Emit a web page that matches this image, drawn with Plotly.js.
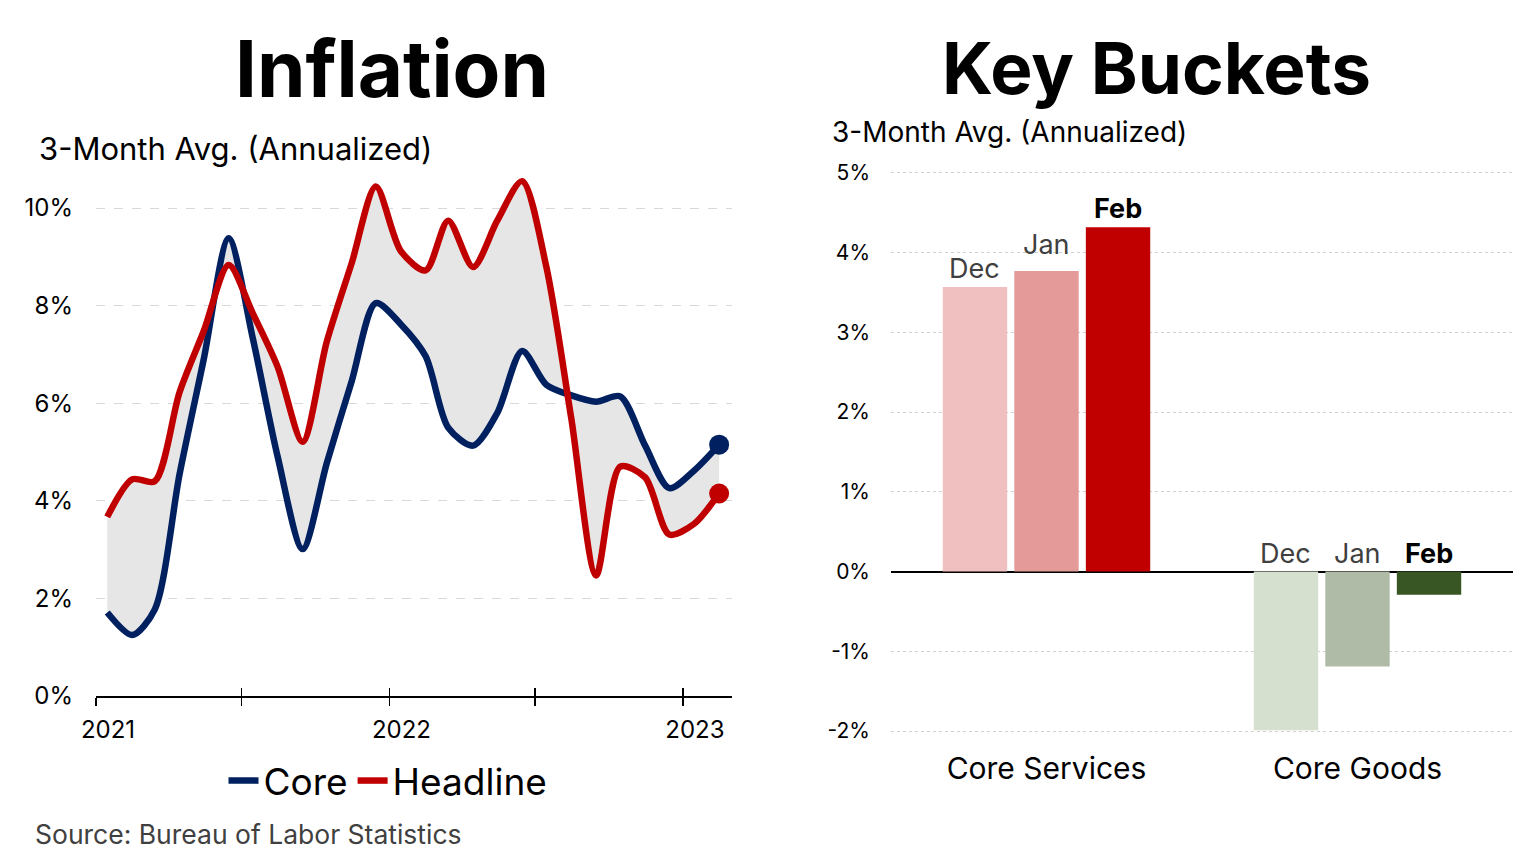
<!DOCTYPE html>
<html>
<head>
<meta charset="utf-8">
<script src="https://cdn.plot.ly/plotly-3.0.1.min.js"></script>
<style>html,body{margin:0;padding:0;background:#fff;}#chart{width:1536px;height:868px;}</style>
</head>
<body>
<div id="chart"></div>
<script>
// ---------- DATA ----------
const months = ['2021-01-15','2021-02-15','2021-03-15','2021-04-15','2021-05-15','2021-06-15',
  '2021-07-15','2021-08-15','2021-09-15','2021-10-15','2021-11-15','2021-12-15',
  '2022-01-15','2022-02-15','2022-03-15','2022-04-15','2022-05-15','2022-06-15',
  '2022-07-15','2022-08-15','2022-09-15','2022-10-15','2022-11-15','2022-12-15',
  '2023-01-15','2023-02-15'];
const core = [1.71,1.25,1.77,4.55,6.9,9.38,7.33,4.9,3.01,4.77,6.45,8.05,
  7.62,6.96,5.5,5.13,5.8,7.07,6.38,6.16,6.03,6.14,5.13,4.26,4.62,5.15];
const headline = [3.67,4.44,4.4,6.23,7.48,8.83,7.84,6.74,5.21,7.26,8.87,10.44,
  9.12,8.72,9.74,8.79,9.74,10.55,8.8,5.7,2.47,4.7,4.48,3.31,3.53,4.15];
const xTickVals = ['2021-01-01','2021-07-01','2022-01-01','2022-07-01','2023-01-01'];
const xTickText = ['2021','','2022','','2023'];
const yTicksLeft = [0,2,4,6,8,10];
const yTicksRight = [-2,-1,0,1,2,3,4,5];

const buckets = ['Core Services','Core Goods'];
const periods = ['Dec','Jan','Feb'];
const dec = [3.57,-1.99];
const jan = [3.77,-1.19];
const feb = [4.32,-0.29];
const bucketValues = [dec, jan, feb];

// ---------- STYLE ----------
const FONT = 'Inter, "Open Sans", sans-serif';
const NAVY = '#002060', RED = '#C00000';
const barColors = [['#F0C0C0','#D6E0CF'],['#E39A99','#AFBBA6'],['#C00000','#375623']];
const labelStyle = [{w:'normal',c:'#404040'},{w:'normal',c:'#404040'},{w:'bold',c:'#000'}];
const labelLift = [[0,0],[8,0],[0,0]];

const W = 1536, H = 868;
const L = {x0:96, x1:732, yTop:170, yBot:696};
const R = {x0:891, x1:1513, yTop:153, yBot:751};
const bargap = 0.31, bargroupgap = 0.1;
const pct = v => (v < 0 ? '-' : '') + Math.abs(v) + '%';

const last = months.length - 1;
const traces = [
  {x: months, y: core, type:'scatter', mode:'lines', line:{width:0, shape:'spline', smoothing:0.8, color:NAVY}, showlegend:false, hoverinfo:'skip', xaxis:'x', yaxis:'y'},
  {x: months, y: headline, type:'scatter', mode:'lines', fill:'tonexty', fillcolor:'#E6E6E6', line:{width:0, shape:'spline', smoothing:0.8, color:RED}, showlegend:false, hoverinfo:'skip', xaxis:'x', yaxis:'y'},
  {x: months, y: core, type:'scatter', mode:'lines', name:'Core', line:{width:6.5, shape:'spline', smoothing:0.8, color:NAVY}, xaxis:'x', yaxis:'y'},
  {x: months, y: headline, type:'scatter', mode:'lines', name:'Headline', line:{width:6.5, shape:'spline', smoothing:0.8, color:RED}, xaxis:'x', yaxis:'y'},
  {x: [months[last]], y: [core[last]], type:'scatter', mode:'markers', marker:{size:20, color:NAVY}, showlegend:false, xaxis:'x', yaxis:'y'},
  {x: [months[last]], y: [headline[last]], type:'scatter', mode:'markers', marker:{size:20, color:RED}, showlegend:false, xaxis:'x', yaxis:'y'}
];
bucketValues.forEach((vals, i) => {
  traces.push({x: buckets, y: vals, type:'bar', name: periods[i], marker:{color: barColors[i]}, showlegend:false, xaxis:'x2', yaxis:'y2'});
});
traces.push({x:[months[0]], y:[null], type:'scatter', mode:'lines', xaxis:'x3', yaxis:'y', showlegend:false, hoverinfo:'skip'});

// annotations
const annotations = [
  {text:'<b>Inflation</b>', x:392/W, y:1-68/H, xref:'paper', yref:'paper', xanchor:'center', yanchor:'middle', showarrow:false, font:{family:FONT, size:78, color:'#000'}},
  {text:'<b>Key Buckets</b>', x:1156/W, y:1-68/H, xref:'paper', yref:'paper', xanchor:'center', yanchor:'middle', showarrow:false, font:{family:FONT, size:71, color:'#000'}},
  {text:'3-Month Avg. (Annualized)', x:37/W, y:1-148/H, xref:'paper', yref:'paper', xanchor:'left', yanchor:'middle', showarrow:false, font:{family:FONT, size:31, color:'#000'}},
  {text:'3-Month Avg. (Annualized)', x:830/W, y:1-132/H, xref:'paper', yref:'paper', xanchor:'left', yanchor:'middle', showarrow:false, font:{family:FONT, size:28, color:'#000'}},
  {text:'Source: Bureau of Labor Statistics', x:33/W, y:1-834/H, xref:'paper', yref:'paper', xanchor:'left', yanchor:'middle', showarrow:false, font:{family:FONT, size:26.5, color:'#404040'}}
];
const catPx = (R.x1 - R.x0) / buckets.length;
const barSlot = catPx * (1 - bargap) / periods.length;
bucketValues.forEach((vals, i) => {
  vals.forEach((v, j) => {
    annotations.push({text: labelStyle[i].w === 'bold' ? '<b>'+periods[i]+'</b>' : periods[i],
      x: buckets[j], y: Math.max(v, 0), xref:'x2', yref:'y2', xanchor:'center', yanchor:'bottom',
      xshift: (i - (periods.length-1)/2) * barSlot, yshift: labelLift[i][j], showarrow:false,
      font:{family:FONT, size:27, color: labelStyle[i].c}});
  });
});

const layout = {
  width: W, height: H, margin:{l:0,r:0,t:0,b:0}, paper_bgcolor:'#fff', plot_bgcolor:'rgba(0,0,0,0)',
  font:{family:FONT, color:'#000'},
  showlegend:true,
  legend:{orientation:'h', x:388/W, y:1-781/H, xanchor:'center', yanchor:'middle', font:{family:FONT, size:37, color:'#000'}, itemwidth:30, traceorder:'normal', tracegroupgap:0},
  barmode:'group', bargap: bargap, bargroupgap: bargroupgap,
  xaxis:{domain:[L.x0/W, L.x1/W], anchor:'y', type:'date', range:['2021-01-01','2023-03-03'],
    tickmode:'array', tickvals:xTickVals, ticktext:xTickText, ticks:'outside', ticklen:8, tickwidth:1.5, tickcolor:'#000',
    showline:true, linecolor:'#000', linewidth:1.5, showgrid:false, zeroline:false, ticklabelshift:12, ticklabelstandoff:4,
    tickfont:{family:FONT, size:24, color:'#000'}, fixedrange:true},
  xaxis3:{overlaying:'x', anchor:'y', type:'date', range:['2021-01-01','2023-03-03'],
    tickmode:'array', tickvals:xTickVals, ticks:'inside', ticklen:8, tickwidth:1.5, tickcolor:'#000',
    showticklabels:false, showline:false, showgrid:false, zeroline:false},
  yaxis:{domain:[1-L.yBot/H, 1-L.yTop/H], anchor:'x', range:[0, (L.yBot-L.yTop)/48.8],
    tickmode:'array', tickvals:yTicksLeft, ticktext:yTicksLeft.map(pct), ticks:'', showline:false,
    showgrid:true, gridcolor:'#D9D9D9', gridwidth:1, griddash:'dash', zeroline:false, ticklabelstandoff:22,
    tickfont:{family:FONT, size:24, color:'#000'}},
  xaxis2:{domain:[R.x0/W, R.x1/W], anchor:'y2', type:'category', range:[-0.5, 1.5], ticks:'', showline:false, showgrid:false, zeroline:false,
    tickfont:{family:FONT, size:30, color:'#000'}, ticklabelstandoff:-3},
  yaxis2:{domain:[1-R.yBot/H, 1-R.yTop/H], anchor:'x2', range:[-2.25, 5.25], tickmode:'array', tickvals:yTicksRight, ticktext:yTicksRight.map(pct), ticks:'',
    showgrid:true, gridcolor:'#D0D0D0', gridwidth:1, griddash:'dot', zeroline:true, zerolinecolor:'#000', zerolinewidth:2,
    ticklabelstandoff:20, tickfont:{family:FONT, size:21, color:'#000'}},
  annotations: annotations
};

Plotly.newPlot('chart', traces, layout, {displayModeBar:false, staticPlot:true});
</script>
</body>
</html>
